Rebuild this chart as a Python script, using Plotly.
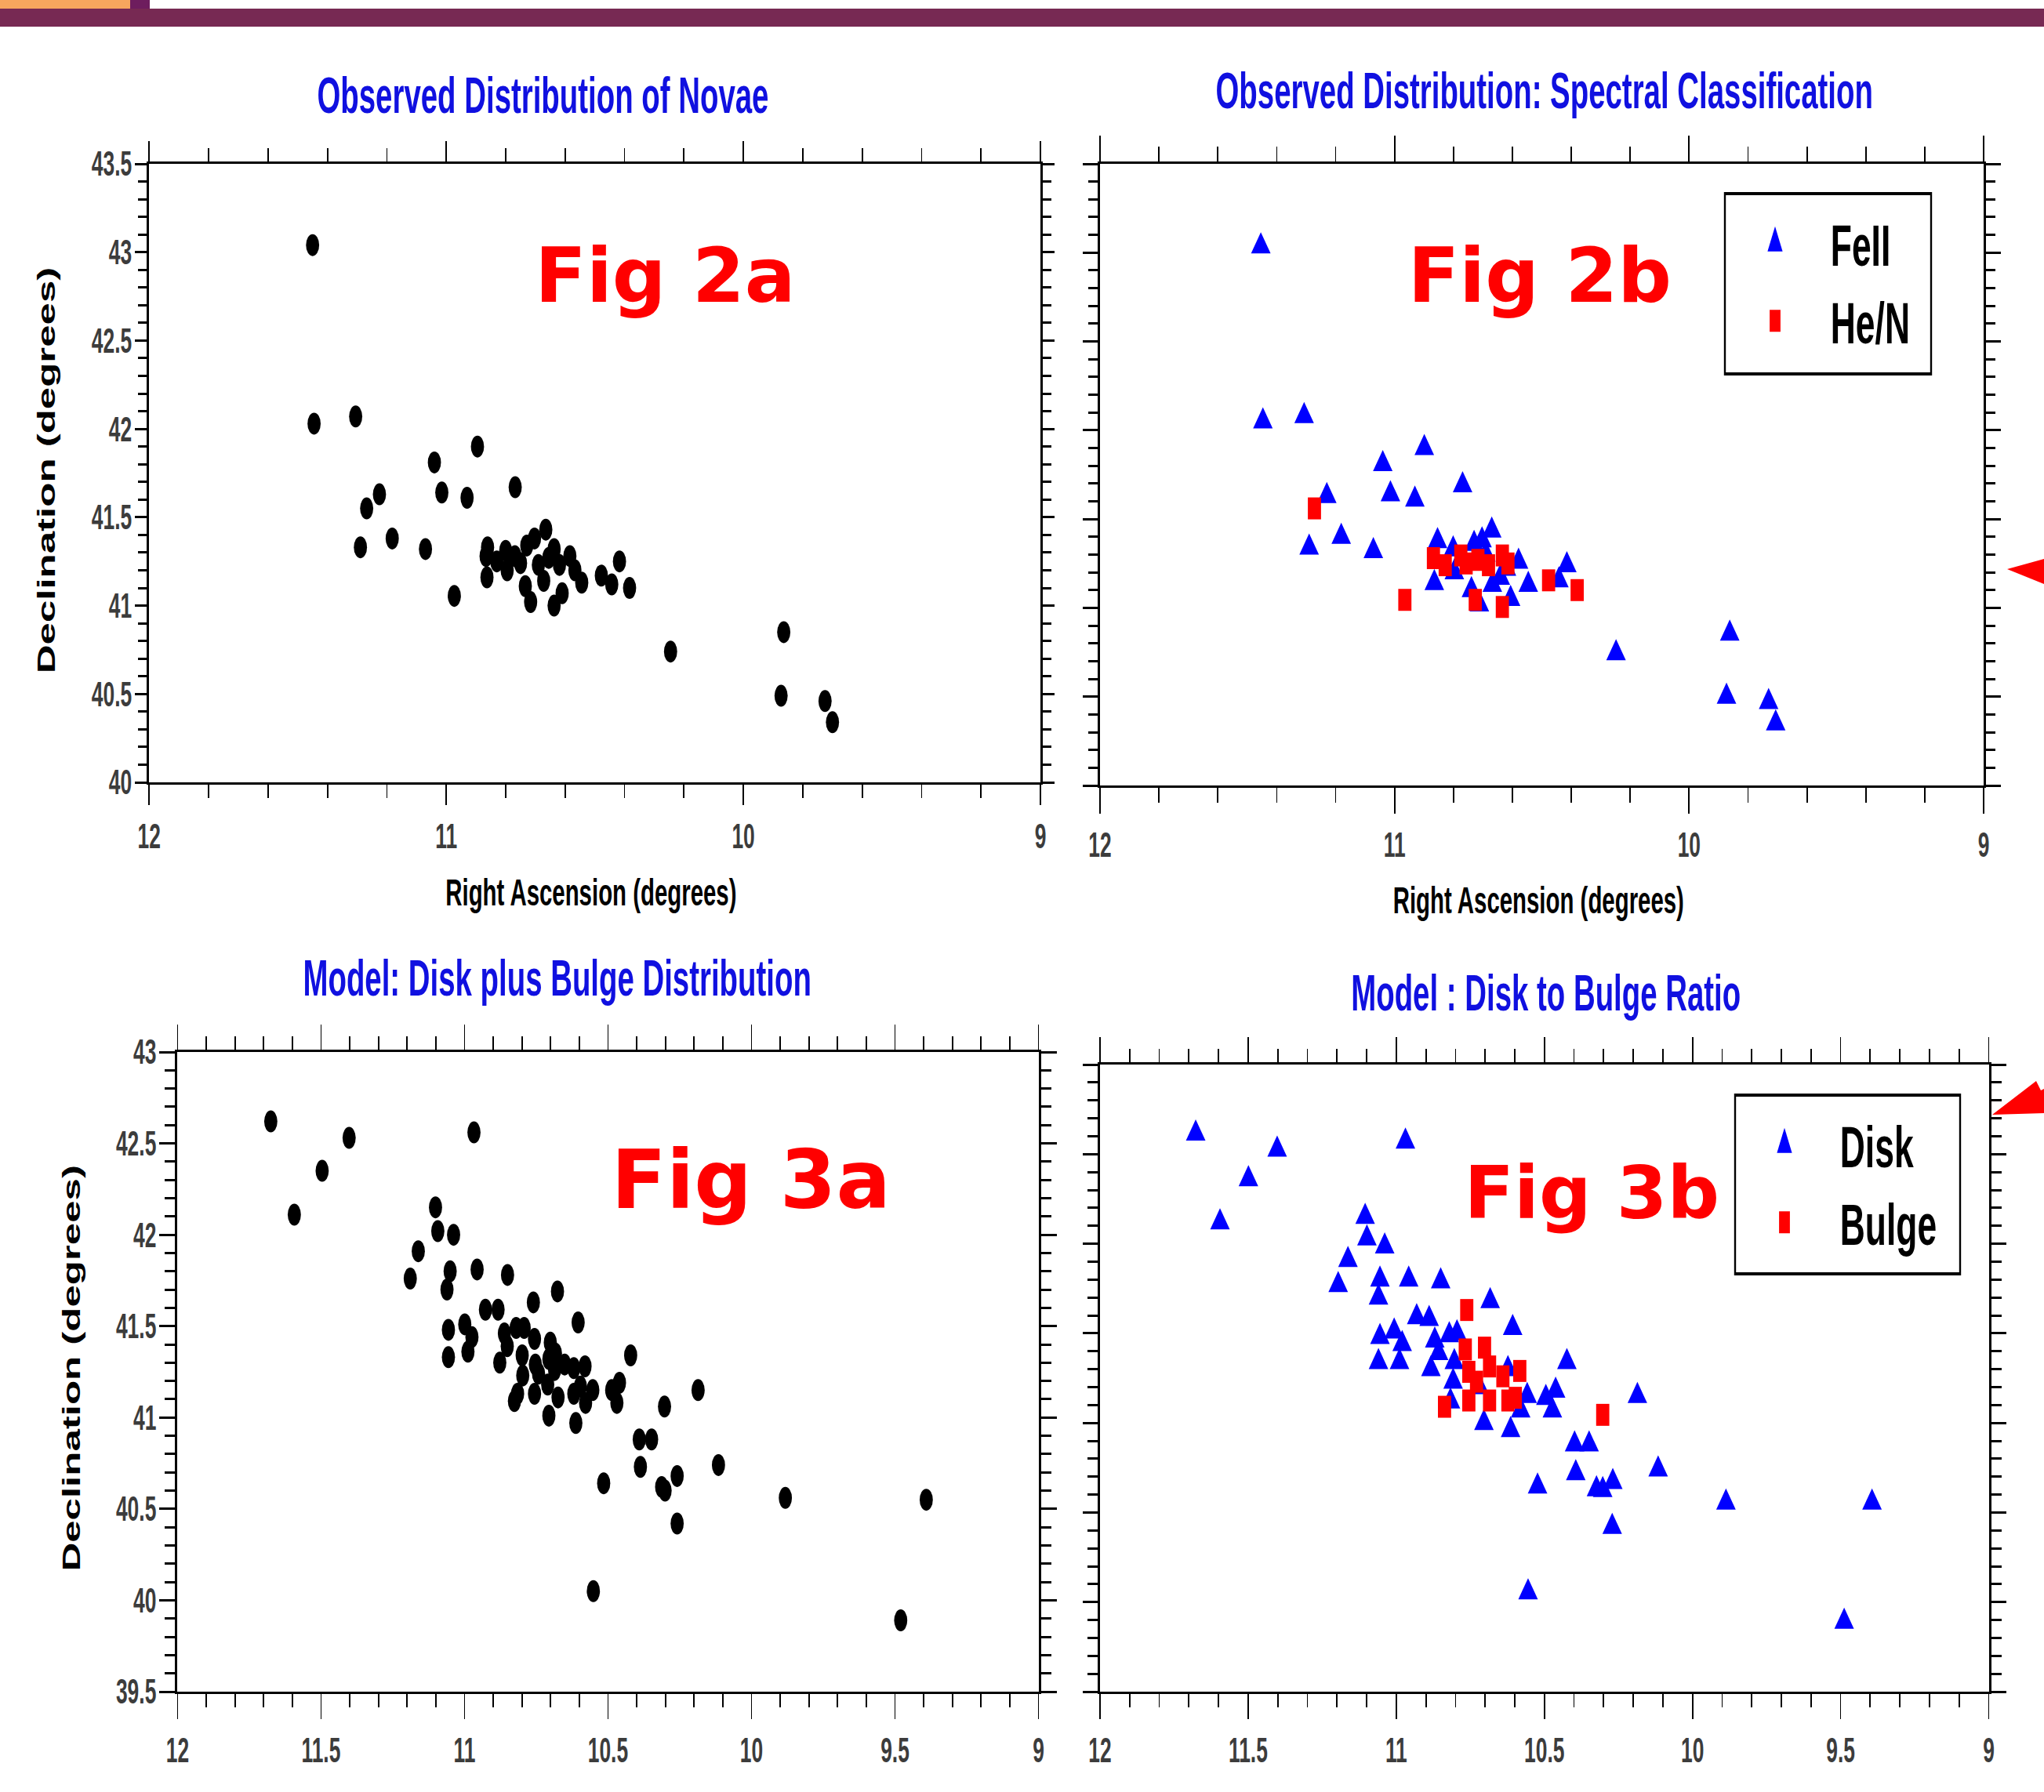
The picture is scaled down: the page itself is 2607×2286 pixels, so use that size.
import plotly.graph_objects as go

# ---------------- data ----------------
# Fig 2a : observed novae (RA, Dec in degrees)
RA_2A = [11.45, 11.445, 11.305, 11.04, 10.895, 11.015, 10.93, 10.768, 11.225, 11.268,
         11.289, 11.182, 11.07, 10.973, 10.245, 9.864, 9.873, 9.725, 9.70,
         10.861, 10.866, 10.863, 10.83, 10.80, 10.795, 10.769, 10.729, 10.703, 10.665,
         10.734, 10.716, 10.69, 10.672, 10.637, 10.637, 10.61, 10.619, 10.584, 10.567,
         10.544, 10.478, 10.443, 10.417, 10.383, 10.75, 10.655]
DEC_2A = [43.04, 42.03, 42.07, 41.81, 41.90, 41.64, 41.61, 41.67, 41.63, 41.55,
          41.33, 41.38, 41.32, 41.055, 40.74, 40.85, 40.49, 40.46, 40.34,
          41.33, 41.28, 41.16, 41.25, 41.31, 41.20, 41.28, 41.34, 41.38, 41.43,
          41.11, 41.02, 41.23, 41.14, 41.32, 41.00, 41.07, 41.23, 41.28, 41.20,
          41.13, 41.17, 41.12, 41.25, 41.10, 41.24, 41.27]

# Fig 2b : spectral classes
RA_FEII = [11.454, 11.447, 11.307, 10.899, 11.04, 11.014, 10.931, 10.769, 11.23, 11.29,
           11.181, 11.072, 10.248, 9.862, 9.873, 9.73, 9.706,
           10.854, 10.865, 10.801, 10.797, 10.73, 10.703, 10.67, 10.739, 10.712, 10.668,
           10.641, 10.606, 10.579, 10.546, 10.415, 10.442, 10.69, 10.62]
DEC_FEII = [43.036, 42.05, 42.08, 41.90, 41.81, 41.64, 41.61, 41.69, 41.63, 41.34,
            41.40, 41.32, 40.745, 40.855, 40.50, 40.47, 40.35,
            41.376, 41.14, 41.33, 41.20, 41.36, 41.38, 41.435, 41.10, 41.02, 41.13,
            41.17, 41.05, 41.26, 41.13, 41.24, 41.155, 41.30, 41.22]
RA_HEN = [11.272, 10.965, 10.868, 10.828, 10.775, 10.757, 10.717, 10.681, 10.726, 10.634,
          10.615, 10.634, 10.477, 10.38]
DEC_HEN = [41.56, 41.045, 41.28, 41.24, 41.295, 41.25, 41.27, 41.24, 41.045, 41.295,
           41.25, 41.005, 41.155, 41.10]

# Fig 3a : model disk + bulge
RA_3A = [11.675, 11.402, 11.496, 11.593, 10.967, 11.101, 11.093, 11.038, 11.161, 11.189,
         11.05, 11.061, 10.956, 10.85, 10.676, 10.76, 10.927, 10.883, 10.999, 11.056,
         10.974, 10.988, 11.056, 10.604, 10.861, 10.82, 10.792, 10.851, 10.756, 10.701,
         10.799, 10.877, 10.797, 10.753, 10.742, 10.706, 10.683, 10.71, 10.686, 10.651,
         10.619, 10.58, 10.674, 10.619, 10.578, 10.596, 10.553, 10.756, 10.706, 10.612,
         10.826, 10.815, 10.421, 10.46, 10.487, 10.469, 10.186, 10.303, 10.391, 10.348,
         10.387, 10.115, 10.515, 10.313, 10.259, 10.301, 10.259, 9.882, 9.391, 9.48, 10.551]
DEC_3A = [42.62, 42.53, 42.35, 42.11, 42.56, 42.15, 42.02, 42.00, 41.91, 41.76,
          41.80, 41.70, 41.81, 41.78, 41.69, 41.63, 41.59, 41.59, 41.51, 41.48,
          41.44, 41.36, 41.33, 41.52, 41.46, 41.49, 41.49, 41.39, 41.43, 41.41,
          41.34, 41.30, 41.23, 41.29, 41.24, 41.32, 41.35, 41.18, 41.26, 41.29,
          41.27, 41.28, 41.11, 41.13, 41.08, 41.17, 41.15, 41.13, 41.01, 40.97,
          41.09, 41.13, 41.34, 41.19, 41.15, 41.08, 41.15, 41.06, 40.88, 40.88,
          40.73, 40.74, 40.64, 40.62, 40.68, 40.60, 40.42, 40.56, 40.55, 39.89, 40.05]

# Fig 3b : disk / bulge split
RA_DISK = [11.677, 11.402, 11.499, 11.595, 10.969, 11.105, 11.099, 11.039, 11.163, 11.196,
           11.055, 11.06, 10.958, 10.85, 10.683, 10.607, 10.931, 10.889, 11.007, 11.055,
           10.98, 10.989, 11.06, 10.87, 10.857, 10.821, 10.795, 10.883, 10.804, 10.808,
           10.817, 10.704, 10.614, 10.424, 10.462, 10.495, 10.473, 10.558, 10.58, 10.398,
           10.349, 10.186, 10.394, 10.116, 10.523, 10.324, 10.303, 10.269, 10.271, 9.887,
           9.394, 9.488, 10.555, 10.623, 10.72]
DEC_DISK = [42.615, 42.525, 42.36, 42.12, 42.57, 42.15, 42.03, 41.985, 41.91, 41.77,
            41.80, 41.70, 41.80, 41.79, 41.68, 41.53, 41.59, 41.58, 41.51, 41.48,
            41.44, 41.34, 41.34, 41.46, 41.39, 41.49, 41.50, 41.30, 41.34, 41.23,
            41.12, 41.00, 40.96, 41.34, 41.18, 41.14, 41.07, 41.15, 41.07, 40.88,
            40.88, 41.15, 40.72, 40.74, 40.645, 40.63, 40.625, 40.67, 40.42, 40.555,
            40.555, 39.89, 40.055, 41.30, 41.20]
RA_BULGE = [10.762, 10.767, 10.702, 10.837, 10.755, 10.755, 10.685, 10.685, 10.64, 10.623,
            10.583, 10.598, 10.729, 10.303]
DEC_BULGE = [41.63, 41.41, 41.42, 41.09, 41.125, 41.285, 41.315, 41.125, 41.26, 41.125,
             41.29, 41.14, 41.23, 41.045]

TITLES = ["Observed Distribution of Novae",
          "Observed Distribution: Spectral Classification",
          "Model: Disk plus Bulge Distribution",
          "Model : Disk to Bulge Ratio"]
FIG_LABELS = ["Fig 2a", "Fig 2b", "Fig 3a", "Fig 3b"]
X_TITLE = "Right Ascension (degrees)"
Y_TITLE = "Declination (degrees)"
LEGEND_NAMES = ["FeII", "He/N", "Disk", "Bulge"]

# ---------------- geometry ----------------
W, H = 2607, 2286          # final picture size
SQ = 0.6                    # horizontal squeeze of the whole drawing
WR = round(W / SQ)          # width Plotly renders at before squeeze


def fx(p):
    return p / W


def fy(p):
    return 1 - p / H


BLUE = "#0000ff"
RED = "#ff0000"
TITLE_BLUE = "#1010e0"
SANS = "Liberation Sans, Arial, sans-serif"
TICKFONT = dict(family=SANS, size=44, color="#3c3c3c", weight="bold")


def x_axis(x0, x1, anchor, dtick, mdtick, tlen, mlen):
    return dict(domain=[fx(x0), fx(x1)], range=[12, 9], anchor=anchor, automargin=False,
                showline=True, linecolor="black", linewidth=3, mirror="ticks",
                ticks="outside", ticklen=tlen, tickwidth=2 / SQ, tickcolor="black",
                tick0=9, dtick=dtick,
                minor=dict(ticks="outside", tick0=9, dtick=mdtick, ticklen=mlen,
                           tickwidth=2 / SQ, tickcolor="black", showgrid=False),
                showgrid=False, zeroline=False, tickfont=TICKFONT,
                ticklabelstandoff=2, fixedrange=True)


def y_axis(y_top, y_bot, anchor, rng, tlen, mlen, labels):
    return dict(domain=[fy(y_bot), fy(y_top)], range=rng, anchor=anchor, automargin=False,
                showline=True, linecolor="black", linewidth=3 / SQ, mirror="ticks",
                ticks="outside", ticklen=tlen / SQ, tickwidth=3, tickcolor="black",
                tick0=rng[0], dtick=0.5,
                minor=dict(ticks="outside", tick0=rng[0], dtick=0.1, ticklen=mlen / SQ,
                           tickwidth=3, tickcolor="black", showgrid=False),
                showgrid=False, zeroline=False, showticklabels=labels,
                tickfont=TICKFONT, ticklabelstandoff=-2, fixedrange=True)


fig = go.Figure()

fig.add_trace(go.Scatter(x=RA_2A, y=DEC_2A, mode="markers", xaxis="x", yaxis="y",
                         marker=dict(symbol="circle", size=28, color="black"),
                         showlegend=False, hoverinfo="skip"))
fig.add_trace(go.Scatter(x=RA_FEII, y=DEC_FEII, mode="markers", xaxis="x2", yaxis="y2",
                         name=LEGEND_NAMES[0], legend="legend",
                         marker=dict(symbol="triangle-up", size=36, color=BLUE)))
fig.add_trace(go.Scatter(x=RA_HEN, y=DEC_HEN, mode="markers", xaxis="x2", yaxis="y2",
                         name=LEGEND_NAMES[1], legend="legend",
                         marker=dict(symbol="square", size=28, color=RED)))
fig.add_trace(go.Scatter(x=RA_3A, y=DEC_3A, mode="markers", xaxis="x3", yaxis="y3",
                         marker=dict(symbol="circle", size=28, color="black"),
                         showlegend=False, hoverinfo="skip"))
fig.add_trace(go.Scatter(x=RA_DISK, y=DEC_DISK, mode="markers", xaxis="x4", yaxis="y4",
                         name=LEGEND_NAMES[2], legend="legend2",
                         marker=dict(symbol="triangle-up", size=36, color=BLUE)))
fig.add_trace(go.Scatter(x=RA_BULGE, y=DEC_BULGE, mode="markers", xaxis="x4", yaxis="y4",
                         name=LEGEND_NAMES[3], legend="legend2",
                         marker=dict(symbol="square", size=28, color=RED)))

annotations = []
# panel titles
for (cx, cy), txt in zip([(692.5, 122), (1970, 116), (710.5, 1247.5), (1971.5, 1267)], TITLES):
    annotations.append(dict(x=fx(cx), y=fy(cy), xref="paper", yref="paper", text=txt,
                            showarrow=False, xanchor="center", yanchor="middle",
                            font=dict(family=SANS, size=64, color=TITLE_BLUE, weight="bold")))
# Fig labels
for (cx, cy, fs), txt in zip([(848.5, 352, 96), (1964, 352, 96), (957.5, 1505, 103),
                              (2030.5, 1522, 93)], FIG_LABELS):
    annotations.append(dict(x=fx(cx), y=fy(cy), xref="paper", yref="paper", text=txt,
                            showarrow=False, xanchor="center", yanchor="middle",
                            font=dict(family="DejaVu Sans, sans-serif", size=fs,
                                      color=RED, weight="bold")))
# axis titles
for cx, cy in [(754, 1137.5), (1962, 1148)]:
    annotations.append(dict(x=fx(cx), y=fy(cy), xref="paper", yref="paper", text=X_TITLE,
                            showarrow=False, xanchor="center", yanchor="middle",
                            font=dict(family=SANS, size=49, color="black", weight="bold")))
for cx, cy in [(59, 600), (91, 1745)]:
    annotations.append(dict(x=fx(cx), y=fy(cy), xref="paper", yref="paper", text=Y_TITLE,
                            showarrow=False, xanchor="center", yanchor="middle", textangle=-90,
                            font=dict(family=SANS, size=51, color="black", weight="bold")))

shapes = [
    # header bar
    dict(type="rect", xref="paper", yref="paper", x0=0, x1=1, y0=fy(34), y1=fy(11),
         fillcolor="#772953", line=dict(width=0), layer="above"),
    dict(type="rect", xref="paper", yref="paper", x0=0, x1=fx(166), y0=fy(11), y1=1,
         fillcolor="#F7A65E", line=dict(width=0), layer="above"),
    dict(type="rect", xref="paper", yref="paper", x0=fx(166), x1=fx(191), y0=fy(11), y1=1,
         fillcolor="#6E1D5E", line=dict(width=0), layer="above"),
    # legend frames
    dict(type="rect", xref="paper", yref="paper", x0=fx(2200), x1=fx(2463), y0=fy(477),
         y1=fy(247), line=dict(color="black", width=4), fillcolor="rgba(0,0,0,0)"),
    dict(type="rect", xref="paper", yref="paper", x0=fx(2213), x1=fx(2500), y0=fy(1625),
         y1=fy(1397), line=dict(color="black", width=4), fillcolor="rgba(0,0,0,0)"),
    # red pointer arrows at the right edge
    dict(type="path", xref="paper", yref="paper", fillcolor=RED, line=dict(width=0),
         path="M %f,%f L %f,%f L %f,%f Z" % (fx(2560), fy(726), 1, fy(713), 1, fy(745))),
    dict(type="path", xref="paper", yref="paper", fillcolor=RED, line=dict(width=0),
         path="M %f,%f L %f,%f L %f,%f L %f,%f L %f,%f Z" % (
             fx(2541), fy(1422), fx(2597), fy(1379), fx(2603), fy(1391),
             1, fy(1389), 1, fy(1420))),
]

LEG_FONT = dict(family=SANS, size=74, color="black", weight="bold")
leg_common = dict(xanchor="left", yanchor="top", bgcolor="rgba(0,0,0,0)", borderwidth=0,
                  font=LEG_FONT, itemwidth=226, itemclick=False, itemdoubleclick=False,
                  traceorder="normal")

fig.update_layout(
    width=WR, height=H, margin=dict(l=0, r=0, t=0, b=0, pad=0, autoexpand=False),
    paper_bgcolor="white", plot_bgcolor="white",
    xaxis=x_axis(190.3, 1327, "y", 1, 0.2, 26, 17),
    yaxis=y_axis(209, 998, "x", [40, 43.5], 15, 11, True),
    xaxis2=x_axis(1403, 2530, "y2", 1, 0.2, 33, 19),
    yaxis2=y_axis(209, 1002, "x2", [40, 43.5], 19, 12, False),
    xaxis3=x_axis(226.4, 1324.5, "y3", 0.5, 0.1, 32, 17),
    yaxis3=y_axis(1342, 2158, "x3", [39.5, 43], 20, 13, True),
    xaxis4=x_axis(1403, 2536.5, "y4", 0.5, 0.1, 32, 17),
    yaxis4=y_axis(1358, 2158, "x4", [39.5, 43], 19, 13, False),
    legend=dict(x=(2264 / SQ - 118) / WR, y=fy(310 - 5 - 49.6), **leg_common),
    legend2=dict(x=(2276 / SQ - 118) / WR, y=fy(1460 - 5 - 49.6), **leg_common),
    annotations=annotations,
    shapes=shapes,
    showlegend=True,
)

POST = """
var gd = document.getElementById('{plot_id}');
var root = document.documentElement, body = document.body;
[root, body].forEach(function (e) {
  e.style.margin = '0'; e.style.padding = '0'; e.style.border = '0';
  e.style.overflow = 'hidden'; e.style.background = 'white';
  e.style.width = '__W__px'; e.style.height = '__H__px';
});
var SQ = __SQ__;
gd.querySelectorAll('g.annotation text.annotation-text').forEach(function (t) {
  if (/^Fig /.test(t.textContent)) {
    var L = t.getComputedTextLength();
    t.setAttribute('textLength', (L / SQ).toFixed(2));
    t.setAttribute('lengthAdjust', 'spacingAndGlyphs');
  }
});
gd.querySelectorAll('.legendpoints path.scatterpts').forEach(function (p) {
  var b = p.getBBox();
  if (!b.width || !b.height) return;
  var tri = (p.getAttribute('d') || '').indexOf('L0,') >= 0;
  var tw = tri ? 32 : 23, th = tri ? 32 : 28;
  p.setAttribute('transform', (p.getAttribute('transform') || '') +
    ' scale(' + (tw / b.width).toFixed(3) + ',' + (th / b.height).toFixed(3) + ')');
});
gd.style.position = 'fixed';
gd.style.left = '0px';
gd.style.top = '0px';
gd.style.margin = '0';
gd.style.width = '__W__px';
gd.style.height = '__H__px';
gd.style.overflow = 'hidden';
var pc = gd.querySelector('.plot-container') || gd.firstElementChild;
pc.style.transformOrigin = '0 0';
pc.style.transform = 'scaleX(' + SQ + ')';
""".replace("__SQ__", str(SQ)).replace("__W__", str(W)).replace("__H__", str(H))

fig.write_html("out.html", config={"displayModeBar": False, "responsive": False},
               post_script=POST)
